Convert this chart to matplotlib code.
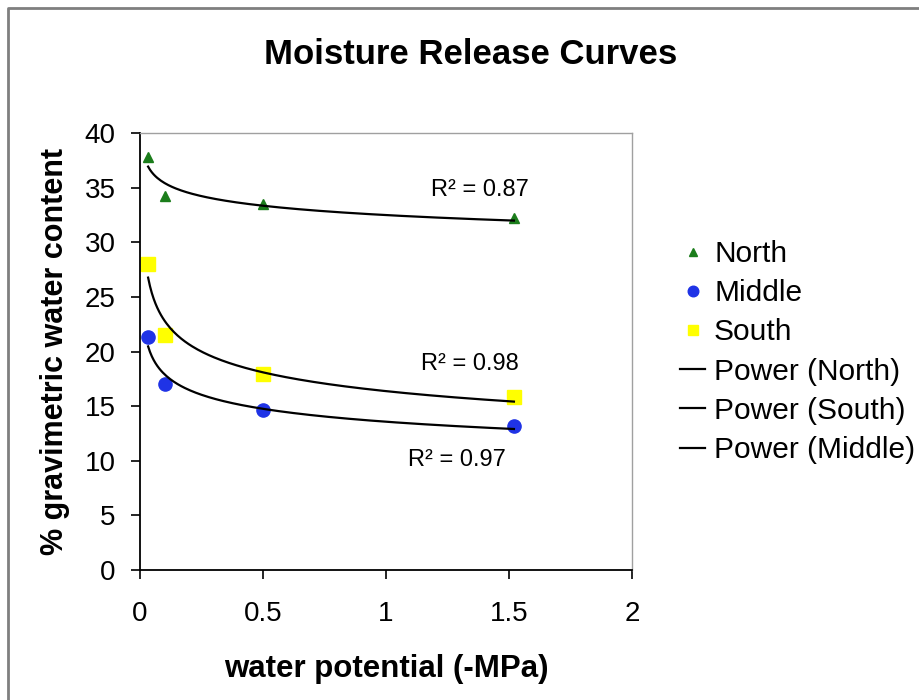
import numpy as np
import matplotlib
matplotlib.use("Agg")
import matplotlib.pyplot as plt
from matplotlib.lines import Line2D

plt.rcParams['font.family'] = ['Liberation Sans', 'DejaVu Sans']

# data
potential = [0.033, 0.1, 0.5, 1.52]
north = [37.8, 34.2, 33.5, 32.2]
middle = [21.3, 17.0, 14.6, 13.2]
south = [28.0, 21.5, 17.9, 15.8]
r2_labels = {"North": "R² = 0.87", "South": "R² = 0.98", "Middle": "R² = 0.97"}
r2_pos = {"North": (1.38, 34.8), "South": (1.34, 18.9), "Middle": (1.29, 10.1)}


def power_fit(x, y):
    """Excel style power trendline: fit in log-log space"""
    b, log_a = np.polyfit(np.log(x), np.log(y), 1)
    xs = np.linspace(min(x), max(x), 200)
    return xs, np.exp(log_a) * xs ** b


fig = plt.figure(figsize=(9.19, 7.0), dpi=100)
ax = fig.add_axes([140 / 919, 1 - 570 / 700, 492 / 919, 437 / 700])

# outer chart border (left and top only visible)
fig.add_artist(Line2D([8 / 919, 8 / 919, 1.0], [0.0, 1 - 8 / 700, 1 - 8 / 700],
                      transform=fig.transFigure, color='#7f7f7f', lw=2))

h_n, = ax.plot(potential, north, ls='none', marker='^', ms=7.5, color='#1b7d1b', label='North')
h_m, = ax.plot(potential, middle, ls='none', marker='o', ms=9.5, color='#1f33e6', label='Middle')
h_s, = ax.plot(potential, south, ls='none', marker='s', ms=9.5, color='#ffff00', label='South')

lines = {}
for name, vals in [("North", north), ("South", south), ("Middle", middle)]:
    xs, ys = power_fit(potential, vals)
    lines[name], = ax.plot(xs, ys, color='black', lw=1.6, label=f'Power ({name})')
    tx, ty = r2_pos[name]
    ax.text(tx, ty, r2_labels[name], fontsize=17, ha='center', va='center')

ax.set_xlim(0, 2)
ax.set_ylim(0, 40)
ax.set_xticks([0, 0.5, 1, 1.5, 2])
ax.set_xticklabels(['0', '0.5', '1', '1.5', '2'])
ax.set_yticks(range(0, 41, 5))
ax.tick_params(labelsize=20, direction='out', length=6.5, width=1.2)
ax.tick_params(axis='x', pad=16)
ax.tick_params(axis='y', pad=11)
for side in ['top', 'right']:
    ax.spines[side].set_color('#a0a0a0')
    ax.spines[side].set_linewidth(1)
for side in ['left', 'bottom']:
    ax.spines[side].set_linewidth(1.3)

ax.set_xlabel('water potential (-MPa)', fontsize=22.5, fontweight='bold', labelpad=19)
ax.set_ylabel('% gravimetric water content', fontsize=22, fontweight='bold', labelpad=10.5)
fig.text(471 / 919, 1 - 55 / 700, 'Moisture Release Curves', fontsize=25,
         fontweight='bold', ha='center', va='center')

fig.legend(handles=[h_n, h_m, h_s, lines["North"], lines["South"], lines["Middle"]],
           loc='upper left', bbox_to_anchor=(680 / 919, 1 - 240 / 700), frameon=False,
           fontsize=21.5, labelspacing=0.375, handlelength=0.84, handletextpad=0.3,
           markerscale=0.8, borderpad=0, borderaxespad=0)

fig.savefig('out.png', dpi=100)
